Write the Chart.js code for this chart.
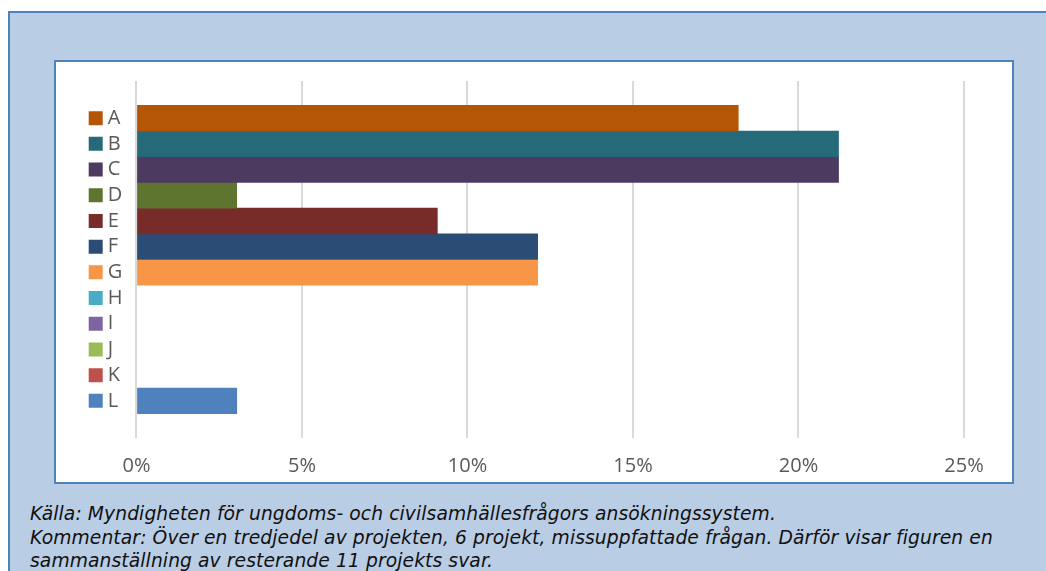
<!DOCTYPE html>
<html>
<head>
<meta charset="utf-8">
<script src="https://cdn.jsdelivr.net/npm/chart.js@4"></script>
<style>
    body { margin: 0; background: #ffffff; width: 1046px; height: 571px; overflow: hidden; position: relative; }
    #outer { position: absolute; left: 8px; top: 11px; width: 1050px; height: 580px;
             background: #b9cde5; border-left: 2px solid #4f81bd; border-top: 2px solid #4f81bd; }
    #frame { position: absolute; left: 54px; top: 60px; width: 956px; height: 420px;
             background: #ffffff; border: 2px solid #4f81bd; }
    #frame canvas { display: block; }
    #caption { position: absolute; left: 30px; top: 502px; font-family: "DejaVu Sans", Verdana, sans-serif;
               font-style: italic; font-size: 18.7px; letter-spacing: 0.1px; line-height: 23.5px;
               color: #111; white-space: nowrap; }
</style>
</head>
<body>
<div id="outer"></div>
<div id="frame"><canvas id="chart" width="956" height="420"></canvas></div>
<div id="caption">
    Källa: Myndigheten för ungdoms- och civilsamhällesfrågors ansökningssystem.<br>
    Kommentar: Över en tredjedel av projekten, 6 projekt, missuppfattade frågan. Därför visar figuren en<br>
    sammanställning av resterande 11 projekts svar.
</div>
<script>
// one row per answer, shares of 33 answers (empty rows have no bar)
const categories = ['A', 'B', 'C', 'D', 'E', 'F', 'G', 'H', 'I', 'J', 'K', 'L'];
const shares = [0.1818, 0.2121, 0.2121, 0.0303, 0.0909, 0.1212, 0.1212, null, null, null, null, 0.0303];
const colors = ['#b55606', '#266a7a', '#4c3a60', '#5e7530', '#772c2a', '#2b4c74',
                '#f79646', '#4bacc6', '#8064a2', '#9bbb59', '#c0504d', '#4f81bd'];
const tickValues = [0, 0.05, 0.10, 0.15, 0.20, 0.25];

document.addEventListener("DOMContentLoaded", () => {
    const ctx = document.getElementById('chart').getContext('2d');

    const datasets = categories.map((name, i) => ({
        label: name,
        data: [shares[i]],
        backgroundColor: colors[i],
        borderWidth: 0,
        pointStyle: 'rect',
        barThickness: 25.7
    }));

    window.answerChart = new Chart(ctx, {
        type: 'bar',
        data: {
            labels: [''],
            datasets: datasets
        },
        options: {
            responsive: false,
            animation: false,
            indexAxis: 'y', // horizontal bars
            layout: {
                padding: { left: 32, right: 48, top: 19, bottom: 5 }
            },
            plugins: {
                tooltip: { enabled: false },
                legend: {
                    position: 'left',
                    fullSize: false,
                    labels: {
                        usePointStyle: true, // narrow box slot keeps the label close to the square
                        boxWidth: 4,
                        boxHeight: 14,
                        padding: 5.7,
                        color: '#595959',
                        font: { family: '"Open Sans", sans-serif', size: 20 }
                    }
                }
            },
            scales: {
                x: {
                    min: 0,
                    max: 0.25,
                    afterBuildTicks: axis => { axis.ticks = tickValues.map(v => ({ value: v })); },
                    afterFit: axis => { axis.height = 39; },
                    grid: { color: '#d9d9d9', lineWidth: 2, drawTicks: false },
                    border: { display: false },
                    ticks: {
                        padding: 16,
                        color: '#595959',
                        font: { family: '"Open Sans", sans-serif', size: 20 },
                        callback: v => Math.round(v * 100) + '%'
                    }
                },
                y: {
                    display: true,
                    ticks: { display: false },
                    grid: { display: false },
                    border: { display: false },
                    afterFit: axis => { axis.width = 4; }
                }
            }
        }
    });
});
</script>
</body>
</html>
